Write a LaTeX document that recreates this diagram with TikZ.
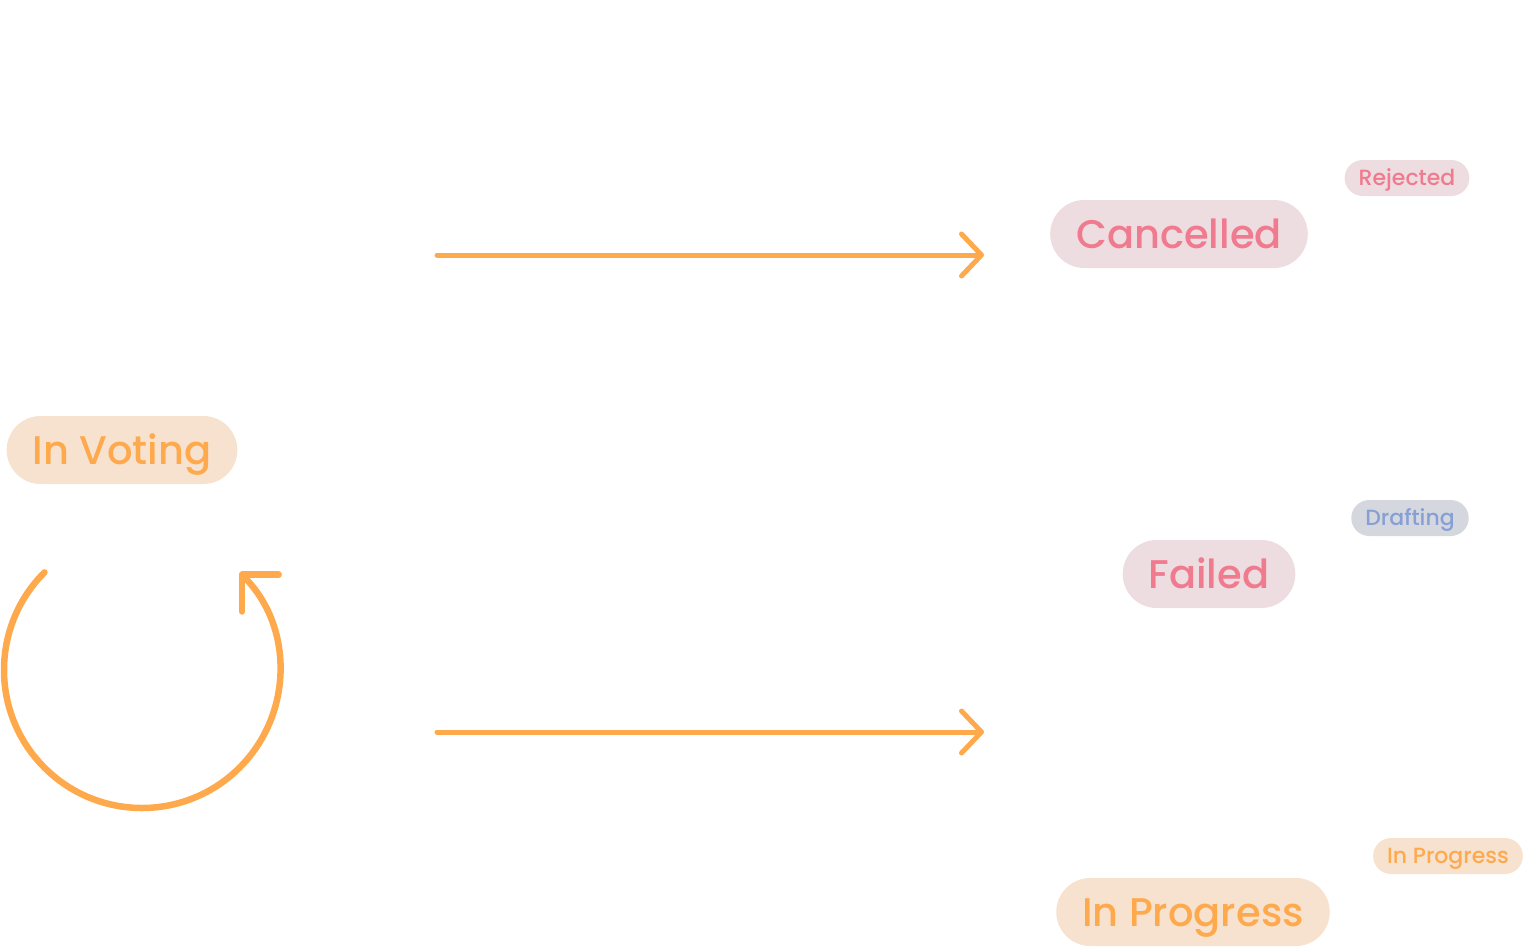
\documentclass[tikz,border=0pt]{standalone}
\usepackage{fontspec}
\setmainfont{Poppins}[UprightFont=* Medium]
\usepackage{tikz}
\usetikzlibrary{arrows.meta}
\definecolor{orangeline}{HTML}{FFA94D}
\definecolor{orangefill}{HTML}{F6E2CF}
\definecolor{pinktext}{HTML}{F07A8E}
\definecolor{pinkfill}{HTML}{EDDDE1}
\definecolor{bluetext}{HTML}{86A0D6}
\definecolor{bluefill}{HTML}{D5D7DE}
\begin{document}
\begin{tikzpicture}[x=1pt,y=-1pt]
\tikzset{pill/.style = {shape=rectangle,rounded corners=34pt,minimum height=68pt,inner xsep=26pt,
  font=\fontsize{40}{48}\selectfont,text height=28pt,text depth=0pt}}
\tikzset{tag/.style = {shape=rectangle,rounded corners=18pt,minimum height=36pt,inner xsep=14pt,
  font=\fontsize{22}{26}\selectfont,text height=15.5pt,text depth=0pt}}
\tikzset{edge/.style = {draw=orangeline,line width=5pt,line cap=round,
  -{Straight Barb[length=20pt,width=42pt,round]}}}
\tikzset{loop/.style = {draw=orangeline,line width=6.5pt,line cap=round,
  -{Straight Barb[length=26pt,width=52pt,round]}}}
\useasboundingbox (0,0) rectangle (1532,946);
% states
\node[pill,fill=orangefill,text=orangeline] (voting) at (122,450) {In Voting};
\node[pill,fill=pinkfill,text=pinktext] (cancelled) at (1179,234) {Cancelled};
\node[pill,fill=pinkfill,text=pinktext] (failed) at (1209,574) {Failed};
\node[pill,fill=orangefill,text=orangeline] (progress) at (1193,912) {In Progress};
% tags
\node[tag,fill=pinkfill,text=pinktext] (rejected) at (1407,178) {Rejected};
\node[tag,fill=bluefill,text=bluetext] (drafting) at (1410,518) {Drafting};
\node[tag,fill=orangefill,text=orangeline] (progresstag) at (1448,856) {In Progress};
% arrows
\coordinate (topfrom) at (437,255);
\coordinate (topto) at (984,255);
\coordinate (lowfrom) at (437,732);
\coordinate (lowto) at (984,732);
\draw[edge] (topfrom) -- (topto);
\draw[edge] (lowfrom) -- (lowto);
% loop
\coordinate (loopc) at (142,670);
\draw[loop] (loopc) ++(225:138) arc[start angle=225,end angle=-45,radius=138];
\end{tikzpicture}
\end{document}
